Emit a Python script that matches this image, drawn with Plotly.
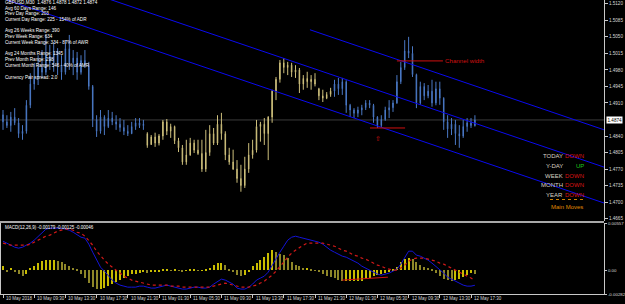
import plotly.graph_objects as go

# ---------------- data ----------------
bars = list(range(122))
opens = [1.4885,1.4870,1.4862,1.4880,1.4868,1.4845,1.4850,1.4905,1.4950,1.4965,
         1.4985,1.4975,1.5010,1.4995,1.5020,1.4990,1.4975,1.5025,1.4995,1.5005,
         1.4975,1.5000,1.4990,1.4945,1.4875,1.4850,1.4880,1.4860,1.4878,1.4870,
         1.4865,1.4858,1.4850,1.4845,1.4860,1.4868,1.4862,1.4845,1.4822,1.4838,
         1.4825,1.4840,1.4870,1.4850,1.4860,1.4830,1.4815,1.4785,1.4800,1.4825,
         1.4810,1.4803,1.4770,1.4805,1.4845,1.4825,1.4865,1.4845,1.4800,1.4785,
         1.4770,1.4750,1.4735,1.4770,1.4800,1.4810,1.4860,1.4865,1.4845,1.4880,
         1.4935,1.4960,1.4995,1.4985,1.4990,1.4975,1.4980,1.4950,1.4962,1.4955,
         1.4960,1.4940,1.4925,1.4920,1.4928,1.4935,1.4950,1.4940,1.4955,1.4905,
         1.4895,1.4888,1.4895,1.4900,1.4910,1.4905,1.4880,1.4862,1.4875,1.4895,
         1.4900,1.4910,1.4955,1.4985,1.5020,1.5015,1.4970,1.4910,1.4945,1.4925,
         1.4935,1.4910,1.4940,1.4920,1.4870,1.4855,1.4865,1.4845,1.4840,1.4860,
         1.4868,1.4862]
highs = [1.4895,1.4884,1.4891,1.4899,1.4878,1.4863,1.4916,1.4973,1.4995,1.5011,
         1.5022,1.5054,1.5033,1.5039,1.5026,1.5011,1.5043,1.5054,1.5022,1.5018,
         1.5011,1.5022,1.4997,1.4948,1.4884,1.4895,1.4884,1.4895,1.4891,1.4884,
         1.4878,1.4874,1.4863,1.4870,1.4878,1.4878,1.4874,1.4848,1.4842,1.4847,
         1.4844,1.4874,1.4876,1.4866,1.4862,1.4836,1.4821,1.4832,1.4836,1.4832,
         1.4832,1.4832,1.4853,1.4863,1.4857,1.4884,1.4889,1.4850,1.4815,1.4811,
         1.4789,1.4779,1.4796,1.4825,1.4832,1.4874,1.4870,1.4878,1.4882,1.4938,
         1.4965,1.5001,1.5005,1.4997,1.4995,1.4990,1.4984,1.4969,1.4976,1.4969,
         1.4973,1.4942,1.4938,1.4933,1.4942,1.4959,1.4963,1.4963,1.4958,1.4908,
         1.4899,1.4902,1.4906,1.4916,1.4916,1.4908,1.4882,1.4884,1.4902,1.4916,
         1.4916,1.4969,1.4997,1.5043,1.5050,1.5030,1.4972,1.4955,1.4952,1.4948,
         1.4959,1.4955,1.4955,1.4922,1.4884,1.4878,1.4874,1.4863,1.4874,1.4878,
         1.4878,1.4884]
lows = [1.4853,1.4857,1.4849,1.4863,1.4836,1.4832,1.4845,1.4899,1.4938,1.4948,
        1.4963,1.4969,1.4980,1.4976,1.4969,1.4959,1.4970,1.4980,1.4969,1.4959,
        1.4970,1.4984,1.4938,1.4859,1.4838,1.4845,1.4842,1.4857,1.4863,1.4853,
        1.4849,1.4842,1.4840,1.4844,1.4853,1.4857,1.4853,1.4815,1.4821,1.4817,
        1.4820,1.4832,1.4842,1.4836,1.4823,1.4806,1.4779,1.4779,1.4798,1.4804,
        1.4800,1.4764,1.4764,1.4798,1.4821,1.4821,1.4832,1.4789,1.4779,1.4768,
        1.4741,1.4722,1.4730,1.4762,1.4792,1.4805,1.4828,1.4821,1.4789,1.4868,
        1.4916,1.4953,1.4973,1.4969,1.4965,1.4963,1.4931,1.4938,1.4942,1.4938,
        1.4945,1.4916,1.4912,1.4918,1.4923,1.4923,1.4927,1.4927,1.4889,1.4880,
        1.4878,1.4880,1.4884,1.4895,1.4899,1.4868,1.4857,1.4859,1.4872,1.4878,
        1.4891,1.4908,1.4950,1.4980,1.5005,1.4965,1.4899,1.4906,1.4916,1.4920,
        1.4902,1.4905,1.4906,1.4853,1.4836,1.4842,1.4821,1.4815,1.4836,1.4849,
        1.4857,1.4860]
closes = [1.4870,1.4862,1.4880,1.4868,1.4845,1.4850,1.4905,1.4950,1.4965,1.4985,
          1.4975,1.5010,1.4995,1.5020,1.4990,1.4975,1.5025,1.4995,1.5005,1.4975,
          1.5000,1.4990,1.4945,1.4875,1.4850,1.4880,1.4860,1.4878,1.4870,1.4865,
          1.4858,1.4850,1.4845,1.4860,1.4868,1.4862,1.4865,1.4820,1.4838,1.4825,
          1.4840,1.4870,1.4850,1.4860,1.4830,1.4815,1.4785,1.4800,1.4825,1.4810,
          1.4803,1.4770,1.4805,1.4845,1.4825,1.4865,1.4845,1.4800,1.4785,1.4770,
          1.4750,1.4735,1.4770,1.4800,1.4810,1.4860,1.4865,1.4845,1.4880,1.4935,
          1.4960,1.4995,1.4985,1.4990,1.4975,1.4980,1.4950,1.4962,1.4955,1.4960,
          1.4950,1.4925,1.4920,1.4928,1.4935,1.4950,1.4940,1.4955,1.4905,1.4895,
          1.4888,1.4895,1.4900,1.4910,1.4905,1.4880,1.4862,1.4875,1.4895,1.4900,
          1.4910,1.4955,1.4985,1.5020,1.5015,1.4970,1.4910,1.4945,1.4925,1.4935,
          1.4910,1.4940,1.4920,1.4870,1.4855,1.4865,1.4845,1.4840,1.4860,1.4868,
          1.4862,1.4874]
khaki_first, khaki_last = 37, 84

macd_main = [0.00342,0.00319,0.00295,0.00271,0.00260,0.00271,0.00295,0.00319,0.00354,0.00401,
             0.00448,0.00484,0.00496,0.00496,0.00496,0.00496,0.00484,0.00472,0.00448,0.00413,
             0.00389,0.00378,0.00307,0.00212,0.00118,0.00035,-0.00012,-0.00071,-0.00118,-0.00153,
             -0.00177,-0.00189,-0.00201,-0.00201,-0.00201,-0.00189,-0.00189,-0.00201,-0.00212,-0.00212,
             -0.00201,-0.00189,-0.00177,-0.00189,-0.00201,-0.00212,-0.00224,-0.00224,-0.00212,-0.00201,
             -0.00201,-0.00212,-0.00212,-0.00201,-0.00165,-0.00130,-0.00106,-0.00118,-0.00142,-0.00165,
             -0.00212,-0.00224,-0.00224,-0.00201,-0.00165,-0.00118,-0.00094,-0.00071,-0.00024,0.00059,
             0.00142,0.00212,0.00283,0.00354,0.00389,0.00401,0.00389,0.00378,0.00366,0.00354,
             0.00342,0.00330,0.00307,0.00271,0.00236,0.00212,0.00189,0.00165,0.00153,0.00130,
             0.00106,0.00083,0.00047,0.00024,0.0,-0.00024,-0.00047,-0.00059,-0.00047,-0.00035,
             -0.00012,0.00012,0.00071,0.00153,0.00224,0.00224,0.00177,0.00165,0.00142,0.00118,
             0.00083,0.00047,0.00012,-0.00035,-0.00083,-0.00106,-0.00130,-0.00153,-0.00177,-0.00189,
             -0.00189,-0.00179]
macd_signal = [0.00319,0.00307,0.00295,0.00295,0.00295,0.00295,0.00295,0.00307,0.00330,0.00354,
               0.00378,0.00401,0.00413,0.00437,0.00460,0.00472,0.00484,0.00484,0.00472,0.00448,
               0.00437,0.00401,0.00354,0.00295,0.00224,0.00165,0.00118,0.00071,0.00035,0.0,
               -0.00035,-0.00071,-0.00094,-0.00118,-0.00130,-0.00142,-0.00153,-0.00165,-0.00177,-0.00177,
               -0.00177,-0.00177,-0.00177,-0.00189,-0.00189,-0.00189,-0.00201,-0.00201,-0.00201,-0.00201,
               -0.00201,-0.00201,-0.00201,-0.00201,-0.00189,-0.00177,-0.00165,-0.00153,-0.00165,-0.00177,
               -0.00189,-0.00201,-0.00201,-0.00201,-0.00189,-0.00177,-0.00153,-0.00130,-0.00094,-0.00059,
               -0.00012,0.00035,0.00094,0.00153,0.00201,0.00236,0.00271,0.00295,0.00319,0.00319,
               0.00319,0.00319,0.00319,0.00307,0.00295,0.00283,0.00260,0.00236,0.00224,0.00201,
               0.00177,0.00165,0.00142,0.00130,0.00106,0.00083,0.00059,0.00047,0.00024,0.00012,
               0.0,0.0,0.00024,0.00059,0.00106,0.00130,0.00142,0.00142,0.00142,0.00130,
               0.00118,0.00106,0.00083,0.00071,0.00047,0.00024,0.0,-0.00024,-0.00047,-0.00071,
               -0.00094,-0.00125]
macd_hist = [0.00047,-0.00024,0.00024,-0.00012,-0.00047,-0.00071,-0.00047,0.00024,0.00047,0.00083,
             0.00106,0.00118,0.00118,0.00118,0.00106,0.00094,0.00071,0.00047,0.00024,0.00003,
             -0.00047,-0.00094,-0.00153,-0.00201,-0.00224,-0.00224,-0.00212,-0.00189,-0.00165,-0.00142,
             -0.00118,-0.00094,-0.00071,-0.00047,-0.00047,-0.00035,-0.00024,-0.00035,-0.00024,-0.00012,
             -0.00012,0.00006,0.00012,-0.00006,0.00012,-0.00006,-0.00012,-0.00006,0.00006,0.00012,
             -0.00006,-0.00006,0.00012,0.00024,0.00059,0.00083,0.00083,0.00059,0.00003,-0.00024,
             -0.00059,-0.00071,-0.00059,-0.00012,0.00047,0.00083,0.00118,0.00153,0.00201,0.00236,
             0.00212,0.00189,0.00177,0.00142,0.00094,0.00059,0.00047,0.00024,0.00024,0.00012,
             -0.00006,-0.00024,-0.00047,-0.00071,-0.00083,-0.00094,-0.00118,-0.00130,-0.00130,-0.00130,
             -0.00130,-0.00130,-0.00130,-0.00106,-0.00094,-0.00071,-0.00059,-0.00047,-0.00035,-0.00012,
             0.00006,0.00035,0.00094,0.00130,0.00142,0.00130,0.00094,0.00059,0.00035,0.00024,
             0.00006,-0.00035,-0.00071,-0.00106,-0.00118,-0.00130,-0.00118,-0.00106,-0.00083,-0.00059,
             -0.00035,-0.00046]

price_ticks = [1.5120,1.5085,1.5050,1.5015,1.4980,1.4945,1.4910,1.4840,1.4805,1.4770,1.4735,1.4700,1.4665]
current_price = 1.4874
macd_ticks = [0.00557, 0.0, -0.00282]
macd_tick_text = ["0.00557", "0.00", "-0.00282"]
x_tick_bars = [0,8,16,24,32,40,48,56,64,72,80,88,96,104,112,120]
x_tick_labels = ["10 May 2018","10 May 09:30","10 May 13:30","10 May 17:30","10 May 21:30",
                 "11 May 01:30","11 May 05:30","11 May 09:30","11 May 13:30","11 May 17:30",
                 "11 May 21:30","12 May 01:30","12 May 05:30","12 May 09:30","12 May 13:30","12 May 17:30"]

# channel lines (bar index, price)
channel_upper = ([78.7, 154.5], [1.5065, 1.4852])
channel_middle = ([-1.0, 154.5], [1.5209, 1.4773])
channel_lower = ([1.0, 154.5], [1.5128, 1.4697])
width_line = ([101.0, 112.8], [1.4999, 1.4999])
support_line = ([94.1, 103.1], [1.4857, 1.4857])
arrow_pos = (96.1, 1.4834)
macd_div_line = ([86.9, 98.7], [-0.00118, -0.00083])

info_lines = ["GBPUSD,M30  1.4876 1.4878 1.4872 1.4874", "Avg 60 Days Range: 146", "Prev Day Range: 203",
              "Current Day Range: 225 - 154% of ADR", "Avg 26 Weeks Range: 390", "Prev Week Range: 634",
              "Current Week Range: 334 - 87% of AWR", "Avg 24 Months Range: 1345", "Prev Month Range: 298",
              "Current Month Range: 546 - 40% of AMR", "Currency Pair spread: 2.0"]
info_y_px = [2.8, 8.0, 13.5, 19.5, 30.8, 36.7, 42.7, 53.7, 59.6, 65.6, 77.8]

trend_names = ["TODAY", "Y-DAY", "WEEK", "MONTH", "YEAR"]
trend_values = ["DOWN", "UP", "DOWN", "DOWN", "DOWN"]
trend_y_px = [156, 166, 175.5, 185, 195]

# ---------------- helpers (pixel -> paper) ----------------
W, H = 604.0, 294.0
def pxx(p): return p / W
def pxy(p): return 1 - p / H

FONT = "Liberation Sans, Arial, sans-serif"
AX = "#c8c8c8"

fig = go.Figure()

blue_idx = [i for i in bars if i < khaki_first or i > khaki_last]
khaki_idx = [i for i in bars if khaki_first <= i <= khaki_last]

def candles(idx, light, dark):
    return go.Candlestick(
        x=[bars[i] for i in idx], open=[opens[i] for i in idx], high=[highs[i] for i in idx],
        low=[lows[i] for i in idx], close=[closes[i] for i in idx],
        increasing=dict(line=dict(color=light, width=1), fillcolor=light),
        decreasing=dict(line=dict(color=light, width=1), fillcolor=dark),
        whiskerwidth=0, xaxis="x", yaxis="y", hoverinfo="skip")

fig.add_trace(candles(blue_idx, "#4a78c4", "#22385e"))
fig.add_trace(candles(khaki_idx, "#cdbf7c", "#6a6236"))

for xs, ys in (channel_upper, channel_middle, channel_lower):
    fig.add_trace(go.Scatter(x=xs, y=ys, mode="lines", line=dict(color="#0a0af0", width=1),
                             xaxis="x", yaxis="y", hoverinfo="skip"))
for xs, ys in (width_line, support_line):
    fig.add_trace(go.Scatter(x=xs, y=ys, mode="lines", line=dict(color="#d01010", width=1),
                             xaxis="x", yaxis="y", hoverinfo="skip"))

# MACD panel
hist_colors = ["#c8bc00" if (i == 0 or macd_hist[i] >= macd_hist[i - 1]) else "#8e8628" for i in bars]
fig.add_trace(go.Bar(x=bars, y=macd_hist, width=0.26, marker=dict(color=hist_colors, line=dict(width=0)),
                     xaxis="x", yaxis="y2", hoverinfo="skip"))
fig.add_trace(go.Scatter(x=bars, y=macd_main, mode="lines", line=dict(color="#1414d8", width=1),
                         xaxis="x", yaxis="y2", hoverinfo="skip"))
fig.add_trace(go.Scatter(x=bars, y=macd_signal, mode="lines", line=dict(color="#d01818", width=1.2, dash="dot"),
                         xaxis="x", yaxis="y2", hoverinfo="skip"))
fig.add_trace(go.Scatter(x=macd_div_line[0], y=macd_div_line[1], mode="lines",
                         line=dict(color="#d01010", width=1), xaxis="x", yaxis="y2", hoverinfo="skip"))

shapes = [
    dict(type="line", xref="paper", yref="y", x0=0, x1=1, y0=current_price, y1=current_price,
         line=dict(color="#3c3c3c", width=1), layer="below"),
    dict(type="line", xref="paper", yref="paper", x0=0, x1=1, y0=pxy(222), y1=pxy(222),
         line=dict(color="#a8a8a8", width=2)),
    dict(type="line", xref="paper", yref="paper", x0=pxx(0.5), x1=pxx(0.5), y0=0, y1=pxy(223),
         line=dict(color=AX, width=1)),
    dict(type="line", xref="paper", yref="paper", x0=pxx(550), x1=pxx(586), y0=pxy(199.5), y1=pxy(199.5),
         line=dict(color="#d08000", width=1, dash="dot")),
]

ann = []
for t, yp in zip(info_lines, info_y_px):
    ann.append(dict(text=t, xref="paper", yref="paper", x=pxx(3), y=pxy(yp), xanchor="left", yanchor="middle",
                    showarrow=False, font=dict(size=4.6, color="white", family=FONT)))
for n, v, yp in zip(trend_names, trend_values, trend_y_px):
    ann.append(dict(text=n, xref="paper", yref="paper", x=pxx(564.5), y=pxy(yp), xanchor="right", yanchor="middle",
                    showarrow=False, font=dict(size=6, color="#d8d0c4", family=FONT)))
    ann.append(dict(text=v, xref="paper", yref="paper", x=pxx(585.5), y=pxy(yp), xanchor="right", yanchor="middle",
                    showarrow=False, font=dict(size=6, color="#1ec81e" if v == "UP" else "#dc1414", family=FONT)))
ann.append(dict(text="Main Moves", xref="paper", yref="paper", x=pxx(566.5), y=pxy(207), xanchor="center",
                yanchor="middle", showarrow=False, font=dict(size=6, color="#e08a00", family=FONT)))
ann.append(dict(text="Channel width", xref="x", yref="y", x=width_line[0][1] + 0.1, y=width_line[1][1],
                xanchor="left", yanchor="middle", showarrow=False, font=dict(size=6.2, color="#d01010", family=FONT)))
ann.append(dict(text="⇧", xref="x", yref="y", x=arrow_pos[0], y=arrow_pos[1], xanchor="center", yanchor="middle",
                showarrow=False, font=dict(size=7, color="#d01010", family="DejaVu Sans")))
ann.append(dict(text="MACD(12,26,9) -0.00179 -0.00125 -0.00046", xref="paper", yref="paper", x=pxx(3),
                y=pxy(227.5), xanchor="left", yanchor="middle", showarrow=False,
                font=dict(size=4.5, color="white", family=FONT)))
ann.append(dict(text=f"{current_price:.4f}", xref="paper", yref="y", x=1, xshift=2, y=current_price,
                xanchor="left", yanchor="middle", showarrow=False, bgcolor="white", borderpad=0.5,
                font=dict(size=4.6, color="black", family=FONT)))
for b, t in zip(x_tick_bars, x_tick_labels):
    ann.append(dict(text=t, xref="x", yref="paper", x=b, xshift=1, y=pxy(298.5), xanchor="left", yanchor="middle",
                    showarrow=False, font=dict(size=4.5, color="#d8d8d8", family=FONT)))

fig.update_layout(
    width=625, height=304, margin=dict(l=0, r=21, t=0, b=10, pad=0, autoexpand=False),
    paper_bgcolor="black", plot_bgcolor="black", showlegend=False, boxgap=0.8, bargap=0,
    shapes=shapes, annotations=ann,
    xaxis=dict(domain=[0, 1], range=[-0.77, 154.1], anchor="y2", showgrid=False, zeroline=False,
               showline=True, linecolor=AX, linewidth=1, ticks="outside", ticklen=3, tickcolor=AX,
               tickvals=x_tick_bars, showticklabels=False, rangeslider=dict(visible=False), fixedrange=True),
    yaxis=dict(domain=[pxy(221), 1], range=[1.4660, 1.5128], side="right", anchor="x", showgrid=False,
               zeroline=False, showline=True, linecolor=AX, linewidth=1, ticks="outside", ticklen=3,
               tickcolor=AX, tickvals=price_ticks, ticktext=[f"{v:.4f}" for v in price_ticks],
               tickfont=dict(size=4.6, color="#d8d8d8", family=FONT), automargin=False),
    yaxis2=dict(domain=[0, pxy(223)], range=[-0.00282, 0.00557], side="right", anchor="x", showgrid=False,
                zeroline=False, showline=True, linecolor=AX, linewidth=1, ticks="outside", ticklen=2,
                tickcolor=AX, tickvals=macd_ticks, ticktext=macd_tick_text,
                tickfont=dict(size=4.4, color="#d8d8d8", family=FONT), automargin=False),
)

fig.write_html("out.html")
